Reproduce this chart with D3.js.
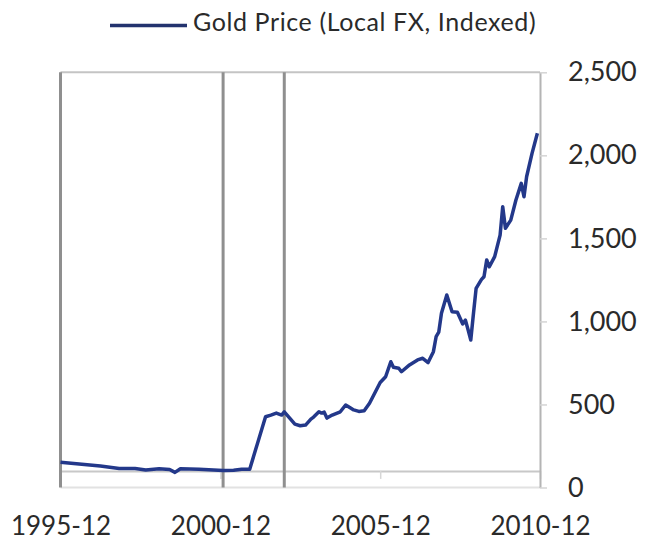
<!DOCTYPE html>
<html>
<head>
<meta charset="utf-8">
<script src="https://cdn.jsdelivr.net/npm/d3@7"></script>
<style>
  html, body { margin: 0; padding: 0; background: #fff; }
  svg { display: block; font-family: Lato, "Open Sans", sans-serif; }
</style>
</head>
<body>
<svg id="chart" width="648" height="544"></svg>
<script>
// ---- data ----
const seriesName = "Gold Price (Local FX, Indexed)";
const dates = [
  "1995-12","1996-07","1997-03","1997-10","1998-04","1998-08","1999-01","1999-05","1999-07","1999-09",
  "2000-04","2001-01","2001-05","2001-08","2001-11","2002-05","2002-07","2002-09","2002-11","2002-12",
  "2003-02","2003-04","2003-06","2003-08","2003-10","2003-11","2004-01","2004-02","2004-03","2004-04",
  "2004-06","2004-09","2004-11","2005-01","2005-02","2005-04","2005-06","2005-08","2005-09","2005-12",
  "2006-02","2006-04","2006-05","2006-07","2006-08","2006-11","2007-02","2007-04","2007-06","2007-08",
  "2007-09","2007-10","2007-11","2008-01","2008-03","2008-05","2008-07","2008-08","2008-09","2008-10",
  "2008-11","2008-12","2009-02","2009-03","2009-04","2009-05","2009-07","2009-09","2009-10","2009-11",
  "2010-01","2010-03","2010-05","2010-06","2010-07","2010-09","2010-11"
];
const values = [
  152,141,129,115,115,105,113,108,91,113,
  110,102,104,110,110,426,436,448,436,456,
  418,382,372,376,412,424,456,448,454,418,
  436,456,497,477,467,458,462,507,539,632,
  667,757,724,718,697,738,768,778,752,818,
  908,935,1049,1159,1058,1055,985,1008,948,888,
  1049,1199,1253,1269,1370,1329,1390,1520,1691,1561,
  1610,1731,1831,1751,1871,2012,2133
];
const xTickLabels = ["1995-12","2000-12","2005-12","2010-12"];
const yTickValues = [0, 500, 1000, 1500, 2000, 2500];
const markerDates = ["1995-12","2001-01","2002-12"];
const baselineValue = 100;

// ---- layout ----
const parse = d3.timeParse("%Y-%m");
const svg = d3.select("#chart");
const mLeft = 60.5, mRight = 540, mTop = 72.3, mBottom = 487.5;

const x = d3.scaleTime()
  .domain([parse("1995-12"), parse("2010-12")])
  .range([mLeft, mRight]);
const y = d3.scaleLinear().domain([0, 2500]).range([mBottom, mTop]);

const data = dates.map((d, i) => ({ date: parse(d), value: values[i] }));

// faint gridline at 0 and top line at 2500
svg.append("line")
  .attr("x1", mLeft).attr("x2", mRight)
  .attr("y1", y(0)).attr("y2", y(0))
  .attr("stroke", "#e2e2e2").attr("stroke-width", 2);
svg.append("line")
  .attr("x1", mLeft).attr("x2", mRight)
  .attr("y1", y(2500)).attr("y2", y(2500))
  .attr("stroke", "#c4c4c4").attr("stroke-width", 2);

// x axis at the baseline value
const xAxis = d3.axisBottom(x)
  .tickValues(xTickLabels.map(parse))
  .tickFormat(d3.timeFormat("%Y-%m"))
  .tickSizeInner(8).tickSizeOuter(0).tickPadding(38);
const gx = svg.append("g")
  .attr("transform", `translate(0,${y(baselineValue)})`)
  .call(xAxis);
gx.select(".domain").attr("stroke", "#c8c8c8").attr("stroke-width", 2);
gx.selectAll(".tick line").attr("stroke", "#d6d6d6").attr("stroke-width", 1.5);
gx.selectAll(".tick text")
  .attr("fill", "#2a2a2a")
  .style("font-size", "26px")
  .style("font-family", "Lato, 'Open Sans', sans-serif");

// right y axis
const yAxis = d3.axisRight(y)
  .tickValues(yTickValues)
  .tickFormat(d3.format(","))
  .tickSizeInner(7).tickSizeOuter(0).tickPadding(21);
const gy = svg.append("g")
  .attr("transform", `translate(${mRight},0)`)
  .call(yAxis);
gy.select(".domain").attr("stroke", "#b4b4b4").attr("stroke-width", 2);
gy.selectAll(".tick line").attr("stroke", "#d4d4d4").attr("stroke-width", 1.5);
gy.selectAll(".tick text")
  .attr("fill", "#2a2a2a")
  .style("font-size", "27px")
  .style("font-family", "Lato, 'Open Sans', sans-serif");

// vertical marker lines
svg.append("g").selectAll("line")
  .data(markerDates.map(parse))
  .join("line")
  .attr("x1", d => x(d)).attr("x2", d => x(d))
  .attr("y1", y(2500)).attr("y2", y(0))
  .attr("stroke", "#8f8f8f").attr("stroke-width", 3);

// series line
const line = d3.line()
  .x(d => x(d.date))
  .y(d => y(d.value));
svg.append("path")
  .datum(data)
  .attr("fill", "none")
  .attr("stroke", "#23388a")
  .attr("stroke-width", 3.5)
  .attr("stroke-linejoin", "round")
  .attr("d", line);

// legend
const lg = svg.append("g");
lg.append("line")
  .attr("x1", 110).attr("x2", 187)
  .attr("y1", 25.5).attr("y2", 25.5)
  .attr("stroke", "#23336e").attr("stroke-width", 3.5);
lg.append("text")
  .attr("x", 193).attr("y", 25)
  .attr("dominant-baseline", "middle")
  .attr("fill", "#2a2a2a")
  .style("font-size", "25px")
  .style("letter-spacing", "0.6px")
  .text(seriesName);
</script>
</body>
</html>
